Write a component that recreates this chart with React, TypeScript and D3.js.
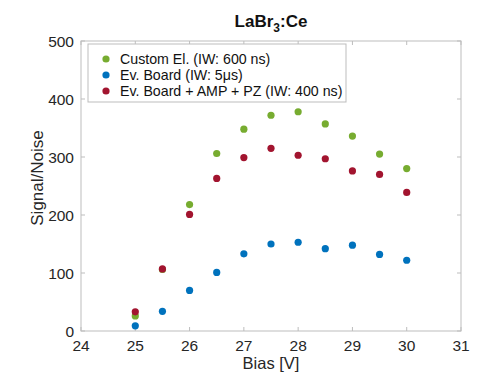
import React from "react";
import * as d3 from "d3";

const bias = [25, 25.5, 26, 26.5, 27, 27.5, 28, 28.5, 29, 29.5, 30];
const customEl = [26, 106, 218, 306, 348, 372, 378, 357, 336, 305, 280];
const evBoard = [9, 34, 70, 101, 133, 150, 153, 142, 148, 132, 122];
const evBoardAmp = [33, 107, 201, 263, 299, 315, 303, 297, 276, 270, 239];
const xTicks = [24, 25, 26, 27, 28, 29, 30, 31];
const yTicks = [0, 100, 200, 300, 400, 500];

const seriesNames = [
  "Custom El. (IW: 600 ns)",
  "Ev. Board (IW: 5\u03bcs)",
  "Ev. Board + AMP + PZ (IW: 400 ns)",
];
const seriesColors = ["#77AC30", "#0072BD", "#A2142F"];
const seriesValues = [customEl, evBoard, evBoardAmp];

const W = 487;
const H = 374;
const left = 81;
const right = 461;
const top = 41;
const bottom = 331;
const font = "'Liberation Sans', Arial, Helvetica, sans-serif";

export default function App() {
  const x = d3.scaleLinear().domain([24, 31]).range([left, right]);
  const y = d3.scaleLinear().domain([0, 500]).range([bottom, top]);
  const axisColor = "#bdbdbd";
  const tickLen = 4;

  return (
    <svg
      width={W}
      height={H}
      style={{ position: "absolute", left: 0, top: 0, background: "#fff" }}
      fontFamily={font}
    >
      {/* title */}
      <text x={(left + right) / 2} y={27} textAnchor="middle" fontSize={17} fontWeight="bold" fill="#111">
        LaBr<tspan fontSize={12} dy={5}>3</tspan>
        <tspan dy={-5}>:Ce</tspan>
      </text>

      {/* axes box */}
      <rect x={left} y={top} width={right - left} height={bottom - top} fill="none" stroke={axisColor} strokeWidth={1} />

      {xTicks.map((t) => (
        <g key={"x" + t}>
          <line x1={x(t)} x2={x(t)} y1={bottom} y2={bottom - tickLen} stroke={axisColor} />
          <line x1={x(t)} x2={x(t)} y1={top} y2={top + tickLen} stroke={axisColor} />
          <text x={x(t)} y={351} textAnchor="middle" fontSize={15.5} fill="#262626">
            {t}
          </text>
        </g>
      ))}
      {yTicks.map((t) => (
        <g key={"y" + t}>
          <line x1={left} x2={left + tickLen} y1={y(t)} y2={y(t)} stroke={axisColor} />
          <line x1={right} x2={right - tickLen} y1={y(t)} y2={y(t)} stroke={axisColor} />
          <text x={74} y={y(t) + 5.5} textAnchor="end" fontSize={15.5} fill="#262626">
            {t}
          </text>
        </g>
      ))}

      <text x={(left + right) / 2} y={369} textAnchor="middle" fontSize={16.5} fill="#262626">
        Bias [V]
      </text>
      <text
        transform={`translate(43,${(top + bottom) / 2 - 8}) rotate(-90)`}
        textAnchor="middle"
        fontSize={17}
        fill="#262626"
      >
        Signal/Noise
      </text>

      {/* data points */}
      {seriesValues.map((vals, si) => (
        <g key={"s" + si}>
          {vals.map((v, i) => (
            <circle key={i} cx={x(bias[i])} cy={y(v)} r={3.6} fill={seriesColors[si]} />
          ))}
        </g>
      ))}

      {/* legend */}
      <rect x={88} y={44} width={258} height={58} fill="#fff" stroke={axisColor} strokeWidth={1} />
      {seriesNames.map((name, i) => (
        <g key={"l" + i}>
          <circle cx={106} cy={59 + i * 16} r={3.6} fill={seriesColors[i]} />
          <text x={120} y={64 + i * 16} fontSize={14.2} fill="#111">
            {name}
          </text>
        </g>
      ))}
    </svg>
  );
}
